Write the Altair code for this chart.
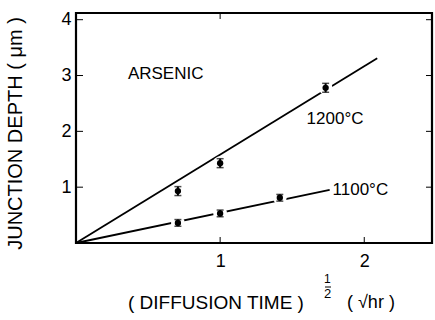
import altair as alt
import pandas as pd

# ---- data ----
temps = ["1200°C", "1200°C", "1200°C", "1100°C", "1100°C", "1100°C"]
sqrt_t = [0.707, 1.0, 1.732, 0.707, 1.0, 1.414]
depth = [0.93, 1.43, 2.78, 0.36, 0.53, 0.81]
err = [0.08, 0.08, 0.08, 0.06, 0.06, 0.06]

fit_series = ["1200°C", "1200°C", "1100°C", "1100°C"]
fit_x = [0.0, 2.09, 0.0, 1.76]
fit_y = [0.0, 3.31, 0.0, 0.95]

label_text = ["ARSENIC", "1200°C", "1100°C"]
label_x = [0.36, 1.60, 1.78]
label_y = [3.03, 2.22, 0.95]

x_ticks = [1, 2]
y_ticks = [1, 2, 3, 4]

X_DOMAIN = [0, 2.47]
Y_DOMAIN = [0, 4.12]
W, H = 356, 230
FONT = "Liberation Sans"

pts = pd.DataFrame({"t": temps, "x": sqrt_t, "y": depth, "e": err})
pts["lo"] = pts["y"] - pts["e"]
pts["hi"] = pts["y"] + pts["e"]
fits = pd.DataFrame({"s": fit_series, "x": fit_x, "y": fit_y})
labels = pd.DataFrame({"text": label_text, "x": label_x, "y": label_y})
xt = pd.DataFrame({"v": x_ticks})
yt = pd.DataFrame({"v": y_ticks})

xs = alt.Scale(domain=X_DOMAIN, nice=False, zero=False)
ys = alt.Scale(domain=Y_DOMAIN, nice=False, zero=False)

xaxis = alt.Axis(values=x_ticks, format="d", ticks=False, domain=False, grid=False,
                 labelFont=FONT, labelFontSize=18, labelColor="black",
                 labelPadding=9, title=None)
yaxis = alt.Axis(values=y_ticks, format="d", ticks=False, domain=False, grid=False,
                 labelFont=FONT, labelFontSize=18, labelColor="black",
                 labelPadding=5, title="JUNCTION DEPTH ( μm )",
                 titleFont=FONT, titleFontSize=20, titleFontWeight="normal",
                 titleColor="black", titleX=-61, titleY=120,
                 titleAngle=270, titleAlign="center", titleBaseline="middle")

lines = alt.Chart(fits).mark_line(color="black", strokeWidth=1.8).encode(
    x=alt.X("x:Q", scale=xs, axis=xaxis),
    y=alt.Y("y:Q", scale=ys, axis=yaxis),
    detail="s:N",
)

halo = alt.Chart(pts).mark_circle(color="white", opacity=1, size=190).encode(
    x=alt.X("x:Q", scale=xs), y=alt.Y("y:Q", scale=ys))

bars = alt.Chart(pts).mark_rule(color="black", strokeWidth=2).encode(
    x=alt.X("x:Q", scale=xs), y=alt.Y("lo:Q", scale=ys), y2="hi:Q")

cap_lo = alt.Chart(pts).mark_tick(color="black", orient="horizontal",
                                  size=7, thickness=1.5).encode(
    x=alt.X("x:Q", scale=xs), y=alt.Y("lo:Q", scale=ys))
cap_hi = alt.Chart(pts).mark_tick(color="black", orient="horizontal",
                                  size=7, thickness=1.5).encode(
    x=alt.X("x:Q", scale=xs), y=alt.Y("hi:Q", scale=ys))

dots = alt.Chart(pts).mark_circle(color="black", opacity=1, size=40).encode(
    x=alt.X("x:Q", scale=xs), y=alt.Y("y:Q", scale=ys))

texts = alt.Chart(labels).mark_text(font=FONT, fontSize=17, align="left",
                                    baseline="middle", color="black").encode(
    x=alt.X("x:Q", scale=xs), y=alt.Y("y:Q", scale=ys), text="text:N")

# inward tick marks on all four sides
xt_bottom = alt.Chart(xt).mark_rule(color="black", strokeWidth=1).encode(
    x=alt.X("v:Q", scale=xs), y=alt.value(H), y2=alt.value(H - 6))
xt_top = alt.Chart(xt).transform_filter("datum.v == 1").mark_rule(
    color="black", strokeWidth=1).encode(
    x=alt.X("v:Q", scale=xs), y=alt.value(0), y2=alt.value(6))
yt_left = alt.Chart(yt).mark_rule(color="black", strokeWidth=1).encode(
    y=alt.Y("v:Q", scale=ys), x=alt.value(0), x2=alt.value(7))
yt_right = alt.Chart(yt).mark_rule(color="black", strokeWidth=1).encode(
    y=alt.Y("v:Q", scale=ys), x=alt.value(W), x2=alt.value(W - 6))

# x-axis title pieces (stacked 1/2 exponent)
xtitle_df = pd.DataFrame({
    "text": ["( DIFFUSION TIME )", "1", "2", "( √hr )"],
    "px": [52, 248, 248, 271],
    "py": [290, 266, 281, 290],
    "fs": [19, 12, 13, 18],
})
xtitle = alt.Chart(xtitle_df).mark_text(font=FONT, align="left",
                                        baseline="middle", color="black").encode(
    x=alt.X("px:Q", scale=None), y=alt.Y("py:Q", scale=None),
    text="text:N", size=alt.Size("fs:Q", scale=None, legend=None))
frac_bar = alt.Chart(xt).transform_filter("datum.v == 1").mark_rule(
    color="black", strokeWidth=1).encode(
    x=alt.value(249), x2=alt.value(255), y=alt.value(274))

chart = alt.layer(lines, halo, bars, cap_lo, cap_hi, dots, texts,
                  xt_bottom, xt_top, yt_left, yt_right, xtitle, frac_bar).properties(
    width=W, height=H,
    autosize=alt.AutoSizeParams(type="none"),
    padding={"left": 76, "top": 13, "right": 3, "bottom": 77},
    background="white",
).configure_view(stroke="black", strokeWidth=2.2)

chart.save("out.html", embed_options={"renderer": "svg", "actions": False})
